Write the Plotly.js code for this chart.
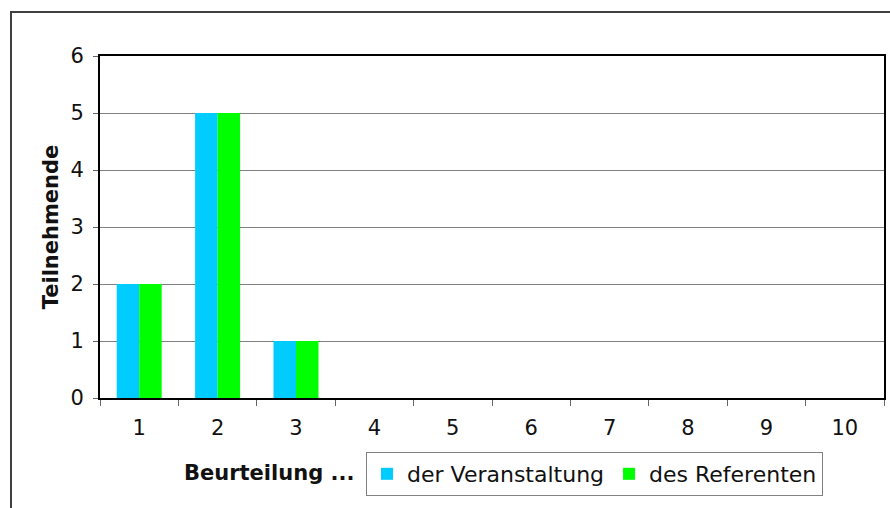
<!DOCTYPE html>
<html>
<head>
<meta charset="utf-8">
<script src="https://cdn.plot.ly/plotly-3.0.1.min.js"></script>
<style>
    body { margin: 0; background: white; }
    #frame {
        position: absolute; left: 10px; top: 11px; width: 900px; height: 520px;
        border-left: 2px solid #404040; border-top: 2px solid #404040;
    }
    #plot { position: absolute; left: 0; top: 0; width: 890px; height: 508px; }
</style>
</head>
<body>
<div id="frame"></div>
<div id="plot"></div>
<script>
const categories = ["1", "2", "3", "4", "5", "6", "7", "8", "9", "10"];
const veranstaltung = [2, 5, 1, 0, 0, 0, 0, 0, 0, 0];
const referent = [2, 5, 1, 0, 0, 0, 0, 0, 0, 0];
const seriesNames = ["der Veranstaltung", "des Referenten"];

const font = "DejaVu Sans, Verdana, sans-serif";

const data = [
    {
        x: categories,
        y: veranstaltung,
        name: seriesNames[0],
        type: "bar",
        marker: { color: "#00CCFF", line: { width: 0 } },
    },
    {
        x: categories,
        y: referent,
        name: seriesNames[1],
        type: "bar",
        marker: { color: "#00FF00", line: { width: 0 } },
    },
];

const layout = {
    width: 890,
    height: 508,
    margin: { l: 100, r: 6, t: 56, b: 110 },
    paper_bgcolor: "rgba(0,0,0,0)",
    plot_bgcolor: "white",
    font: { family: font, size: 21, color: "#111" },
    barmode: "group",
    bargap: 0.426,
    bargroupgap: 0,
    showlegend: true,
    legend: {
        orientation: "h",
        x: (366 - 100) / 784,
        xanchor: "left",
        y: (398 - 452) / 342,
        yanchor: "top",
        bordercolor: "#808080",
        borderwidth: 1,
        bgcolor: "white",
        font: { family: font, size: 22, color: "#111" },
        itemclick: false,
    },
    xaxis: {
        type: "category",
        tickson: "boundaries",
        ticks: "outside",
        ticklen: 6,
        tickcolor: "#666",
        ticklabelstandoff: 10,
        showgrid: false,
        showline: true,
        linecolor: "black",
        linewidth: 2,
        mirror: true,
        tickfont: { family: font, size: 21, color: "#111" },
        fixedrange: true,
    },
    yaxis: {
        range: [0, 6],
        dtick: 1,
        ticks: "outside",
        ticklen: 5,
        tickcolor: "#666",
        ticklabelstandoff: 5,
        showgrid: true,
        gridcolor: "#808080",
        gridwidth: 1,
        showline: true,
        linecolor: "black",
        linewidth: 2,
        mirror: true,
        zeroline: false,
        tickfont: { family: font, size: 21, color: "#111" },
        title: { text: "<b>Teilnehmende</b>", font: { size: 21 }, standoff: 6 },
        fixedrange: true,
    },
    annotations: [
        {
            text: "<b>Beurteilung ...</b>",
            xref: "paper",
            yref: "paper",
            x: (269 - 100) / 784,
            y: (398 - 473) / 342,
            xanchor: "center",
            yanchor: "middle",
            showarrow: false,
            font: { family: font, size: 21 },
        },
    ],
};

Plotly.newPlot(document.getElementById("plot"), data, layout, { displayModeBar: false, staticPlot: true });
</script>
</body>
</html>
